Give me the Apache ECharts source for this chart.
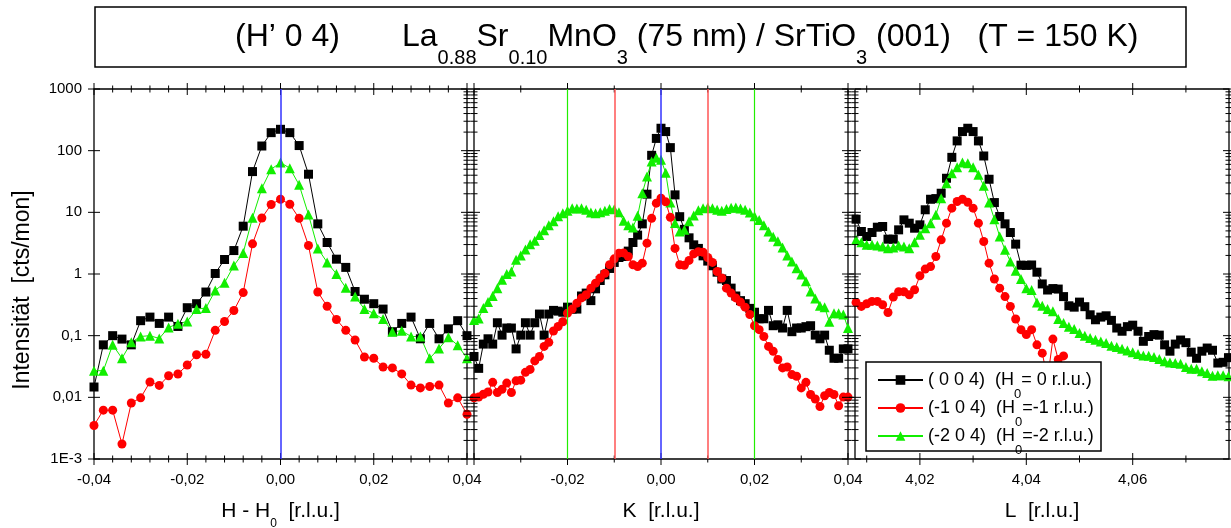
<!DOCTYPE html>
<html><head><meta charset="utf-8">
<script src="https://cdn.jsdelivr.net/npm/echarts@6/dist/echarts.min.js"></script>
<style>html,body{margin:0;padding:0;background:#fff}#c{width:1231px;height:528px}</style>
</head><body><div id="c"></div>
<script>
// ---------- data ----------
const hValues = [-0.040,-0.038,-0.036,-0.034,-0.032,-0.030,-0.028,-0.026,-0.024,-0.022,-0.020,-0.018,-0.016,-0.014,-0.012,-0.010,-0.008,-0.006,-0.004,-0.002,0.000,0.002,0.004,0.006,0.008,0.010,0.012,0.014,0.016,0.018,0.020,0.022,0.024,0.026,0.028,0.030,0.032,0.034,0.036,0.038,0.040];
const hBlack = [0.0147,0.071,0.10,0.088,0.071,0.175,0.20,0.158,0.20,0.141,0.284,0.33,0.51,1.02,1.72,2.4,5.96,45.8,119,196,222,196,121,41.5,6.5,3.24,1.74,1.28,0.52,0.39,0.33,0.27,0.116,0.158,0.20,0.089,0.158,0.089,0.129,0.175,0.10];
const hGreen = [0.027,0.027,0.071,0.043,0.078,0.097,0.10,0.09,0.136,0.156,0.17,0.27,0.28,0.54,0.72,1.37,2.2,8.2,24.6,50,64,52,27.9,9.2,2.6,1.54,1.0,0.6,0.43,0.27,0.23,0.186,0.116,0.12,0.097,0.097,0.043,0.062,0.094,0.07,0.043];
const hRed = [0.0035,0.0062,0.0062,0.00175,0.0081,0.0098,0.0177,0.0156,0.0224,0.0239,0.0334,0.049,0.05,0.122,0.17,0.256,0.50,3.08,8.1,13.4,16.3,13.5,8.0,2.9,0.51,0.30,0.183,0.122,0.085,0.045,0.043,0.031,0.030,0.024,0.0158,0.0142,0.0150,0.0158,0.0081,0.0098,0.0053];

const kValues = [-0.040,-0.039,-0.038,-0.037,-0.036,-0.035,-0.034,-0.033,-0.032,-0.031,-0.030,-0.029,-0.028,-0.027,-0.026,-0.025,-0.024,-0.023,-0.022,-0.021,-0.020,-0.019,-0.018,-0.017,-0.016,-0.015,-0.014,-0.013,-0.012,-0.011,-0.010,-0.009,-0.008,-0.007,-0.006,-0.005,-0.004,-0.003,-0.002,-0.001,0.000,0.001,0.002,0.003,0.004,0.005,0.006,0.007,0.008,0.009,0.010,0.011,0.012,0.013,0.014,0.015,0.016,0.017,0.018,0.019,0.020,0.021,0.022,0.023,0.024,0.025,0.026,0.027,0.028,0.029,0.030,0.031,0.032,0.033,0.034,0.035,0.036,0.037,0.038,0.039,0.040];
const kBlack = [0.046,0.0295,0.073,0.089,0.073,0.162,0.102,0.133,0.133,0.061,
 0.102,0.162,0.102,0.162,0.224,0.102,0.224,0.257,0.25,0.24,
 0.29,0.27,0.27,0.44,0.49,0.37,0.575,0.785,0.97,1.23,
 1.54,1.85,1.92,2.35,3.24,4.27,6.5,19.7,84,158,
 231,204,112,19.2,8.5,5.3,3.86,2.97,2.6,1.97,
 1.62,1.36,1.07,0.83,0.785,0.59,0.44,0.37,0.33,0.277,
 0.24,0.188,0.188,0.257,0.145,0.15,0.133,0.257,0.116,0.133,
 0.133,0.14,0.145,0.102,0.089,0.102,0.058,0.043,0.043,0.061,
 0.061];
const kGreen = [0.18,0.19,0.28,0.35,0.44,0.59,0.805,1.0,1.1,1.7,
 2.0,2.5,3.05,3.45,4.3,5.1,6.2,7.2,8.6,9.7,
 10.6,11.7,11.5,11.7,11.0,9.9,9.7,10.0,10.6,11.3,
 11.2,10.0,7.3,6.2,5.7,8.8,20.4,38,66.5,77,
 71,44,14.4,6.7,4.9,5.2,7.2,8.9,10.8,11.7,
 12.0,11.7,11.0,10.6,11.3,11.9,12.0,11.5,11.0,9.9,
 8.6,7.5,6.2,4.9,4.0,3.4,2.7,2.0,1.6,1.24,
 0.98,0.76,0.52,0.40,0.305,0.29,0.168,0.232,0.232,0.22,
 0.133];
const kRed = [0.0098,0.0101,0.0112,0.0122,0.0175,0.012,0.0135,0.017,0.012,0.0185,
 0.019,0.0254,0.0284,0.039,0.046,0.067,0.078,0.119,0.141,0.168,
 0.232,0.27,0.337,0.41,0.46,0.59,0.71,0.86,1.03,1.41,
 1.76,2.18,2.2,1.92,1.41,1.32,1.5,3.16,8.0,14.1,
 16.9,14.8,8.3,2.6,1.41,1.38,1.66,2.12,2.3,2.25,
 1.85,1.54,1.1,0.86,0.59,0.49,0.41,0.35,0.29,0.22,
 0.145,0.125,0.097,0.067,0.056,0.041,0.030,0.031,0.0234,0.022,
 0.0142,0.0175,0.0111,0.0094,0.0071,0.0106,0.012,0.0111,0.0073,0.0101,
 0.0101];

const lValues = [4.008,4.009,4.010,4.011,4.012,4.013,4.014,4.015,4.016,4.017,4.018,4.019,4.020,4.021,4.022,4.023,4.024,4.025,4.026,4.027,4.028,4.029,4.030,4.031,4.032,4.033,4.034,4.035,4.036,4.037,4.038,4.039,4.040,4.041,4.042,4.043,4.044,4.045,4.046,4.047,4.048,4.049,4.050,4.051,4.052,4.053,4.054,4.055,4.056,4.057,4.058,4.059,4.060,4.061,4.062,4.063,4.064,4.065,4.066,4.067,4.068,4.069,4.070,4.071,4.072,4.073,4.074,4.075,4.076,4.077,4.078];
const lBlack = [7.74,4.89,4.06,4.71,5.74,5.89,3.67,3.67,5.2,7.55,
 6.67,5.53,6.27,11.0,16.3,16.7,20.4,35.7,78,144,
 204,231,204,144,82,34.4,14.4,8.56,6.5,4.71,
 3.05,1.39,1.38,1.4,1.07,0.69,0.55,0.58,0.57,0.43,
 0.305,0.29,0.35,0.295,0.218,0.181,0.2,0.21,0.177,0.133,
 0.118,0.14,0.148,0.118,0.081,0.097,0.104,0.102,0.071,0.056,
 0.073,0.085,0.077,0.054,0.043,0.056,0.063,0.058,0.036,0.037,
 0.044];
const lGreen = [3.58,3.28,2.97,2.97,2.9,2.79,2.62,2.68,2.9,2.79,
 2.62,3.28,4.32,5.53,6.67,9.1,16.9,29.6,43,54,
 64,62.5,54,40.5,26.9,14.4,7.74,4.06,2.47,1.6,
 1.13,0.83,0.59,0.55,0.346,0.305,0.27,0.25,0.186,0.16,
 0.14,0.128,0.110,0.0998,0.0914,0.0859,0.0807,0.0759,0.0687,0.0654,
 0.0614,0.0577,0.0536,0.0504,0.0479,0.0473,0.045,0.0418,0.0383,0.0367,
 0.036,0.0351,0.031,0.0291,0.0291,0.0264,0.0248,0.0224,0.0228,0.0228,
 0.0219];
const lRed = [0.346,0.298,0.329,0.359,0.359,0.317,0.238,0.422,0.515,0.515,
 0.46,0.555,0.935,1.2,1.32,1.92,3.58,6.67,11.7,15.0,
 16.3,14.6,11.7,6.67,3.37,1.5,0.83,0.59,0.43,0.298,
 0.186,0.125,0.104,0.125,0.071,0.052,0.02,0.088,0.041,0.047];

// reference lines
const hLineBlue = [0];
const kLineBlue = [0];
const kLineRed = [-0.0094, 0.0088];
const kLineGreen = [-0.0181, 0.0186];

// ticks & labels
const yMajorTicks = [0.001, 0.01, 0.1, 1, 10, 100, 1000];
const yTickLabels = ['1E-3', '0,01', '0,1', '1', '10', '100', '1000'];
const yMinorFactors = [2, 3, 4, 5, 6, 7, 8, 9];
const hLabelTicks = [-0.04, -0.02, 0, 0.02, 0.04];
const hMinorTicks = [-0.036,-0.032,-0.028,-0.024,-0.016,-0.012,-0.008,-0.004,0.004,0.008,0.012,0.016,0.024,0.028,0.032,0.036];
const kLabelTicks = [-0.02, 0, 0.02, 0.04];
const kMajorTicks = [-0.04, -0.02, 0, 0.02, 0.04];
const kMinorTicks = [-0.03, -0.01, 0.01, 0.03];
const lLabelTicks = [4.02, 4.04, 4.06];
const lMinorTicks = [4.01, 4.03, 4.05, 4.07];

const seriesNames = ['(0 0 4)', '(-1 0 4)', '(-2 0 4)'];
const legendParts = [['( 0 0 4)  (H', '0', '= 0 r.l.u.)'], ['(-1 0 4)  (H', '0', '=-1 r.l.u.)'], ['(-2 0 4)  (H', '0', '=-2 r.l.u.)']];

// ---------- chart ----------
const FONT = "'Liberation Sans', Arial, Helvetica, sans-serif";
const C_BLACK = '#000000', C_RED = '#ff0000', C_GREEN = '#11ee00';

function fmtX(v) { if (Math.abs(v) < 1e-9) v = 0; return v.toFixed(2).replace('.', ','); }
function fmtY(v) { const e = Math.round(Math.log10(v)); const i = yMajorTicks.findIndex(t => Math.round(Math.log10(t)) === e); return i >= 0 ? yTickLabels[i] : ''; }
function zip(xs, ys) { return ys.map((y, i) => [xs[i], y]); }

const yMinorTicks = [];
yMajorTicks.slice(0, -1).forEach(d => yMinorFactors.forEach(f => yMinorTicks.push(d * f)));

const grids = [
  {left: 94, top: 89, width: 373, height: 370},
  {left: 474, top: 89, width: 374, height: 370},
  {left: 855, top: 89, width: 374, height: 370}
].map(g => Object.assign(g, {show: true, borderColor: '#000', borderWidth: 1.3, backgroundColor: 'transparent',
  containLabel: false, outerBoundsMode: 'none'}));

const xRanges = [[-0.04, 0.04], [-0.04, 0.04], [4.0078, 4.0781]];
const xLabelSets = [hLabelTicks, kLabelTicks, lLabelTicks];
const xMajorSets = [hLabelTicks, kMajorTicks, lLabelTicks];
const xMinorSets = [hMinorTicks, kMinorTicks, lMinorTicks];
const xNames = ['{m|H - H}{s|0}{m|  [r.l.u.]}', '{m|K  [r.l.u.]}', '{m|L  [r.l.u.]}'];

const xAxes = xRanges.map((r, i) => ({
  type: 'value', gridIndex: i, min: r[0], max: r[1], splitNumber: 3,
  axisLine: {show: false}, axisTick: {show: false}, splitLine: {show: false},
  axisLabel: {customValues: xLabelSets[i], formatter: fmtX, fontSize: 15, color: '#000', fontFamily: FONT, margin: 13},
  name: xNames[i], nameLocation: 'middle', nameGap: 34,
  nameTextStyle: {fontFamily: FONT, color: '#000', rich: {
    m: {fontSize: 21, lineHeight: 36, fontFamily: FONT, color: '#000'},
    s: {fontSize: 12, lineHeight: 10, padding: [26, 0, 0, 0], fontFamily: FONT, color: '#000'}
  }}
}));

const yAxes = [0, 1, 2].map(i => ({
  type: 'log', logBase: 10, gridIndex: i, min: 0.001, max: 1000, splitNumber: 6,
  axisLine: {show: false}, axisTick: {show: false}, splitLine: {show: false}, minorTick: {show: false},
  axisLabel: {show: i === 0, formatter: fmtY, fontSize: 15, color: '#000', fontFamily: FONT, margin: 12},
  name: i === 0 ? 'Intensität  [cts/mon]' : '', nameLocation: 'middle', nameGap: 60, nameRotate: 90,
  nameTextStyle: {fontSize: 23, color: '#000', fontFamily: FONT, padding: [0, 32, 0, 0]}
}));

function tickRenderer(leftMinor) {
  return function (params, api) {
    const cs = params.coordSys;
    const kind = api.value(2);
    const pt = api.coord([api.value(0), api.value(1)]);
    const L = (kind === 0 || kind === 2) ? 6 : 3.5;
    const st = {stroke: '#000', lineWidth: 1};
    const ch = [];
    if (kind < 2) {
      const y = pt[1];
      if (kind === 0 || leftMinor) ch.push({type: 'line', shape: {x1: cs.x - L, y1: y, x2: cs.x + L, y2: y}, style: st});
      ch.push({type: 'line', shape: {x1: cs.x + cs.width - L, y1: y, x2: cs.x + cs.width + L, y2: y}, style: st});
    } else {
      const x = pt[0];
      ch.push({type: 'line', shape: {x1: x, y1: cs.y - L, x2: x, y2: cs.y + L}, style: st});
      ch.push({type: 'line', shape: {x1: x, y1: cs.y + cs.height - L, x2: x, y2: cs.y + cs.height + L}, style: st});
    }
    return {type: 'group', children: ch};
  };
}

function tickSeries(i) {
  const x0 = xRanges[i][0];
  const data = [];
  yMajorTicks.forEach(v => data.push([x0, v, 0]));
  yMinorTicks.forEach(v => data.push([x0, v, 1]));
  xMajorSets[i].forEach(v => data.push([v, 1, 2]));
  xMinorSets[i].forEach(v => data.push([v, 1, 3]));
  return {type: 'custom', xAxisIndex: i, yAxisIndex: i, data: data, dimensions: ['x', 'y', 'k'], encode: {x: 0, y: 1},
    renderItem: tickRenderer(i !== 0), clip: false, silent: true, z: 3, animation: false};
}

function markLines(blue, red, green) {
  const d = [];
  blue.forEach(v => d.push({xAxis: v, lineStyle: {color: '#3333ff', width: 1.5, type: 'solid'}}));
  red.forEach(v => d.push({xAxis: v, lineStyle: {color: '#ff5555', width: 1.5, type: 'solid'}}));
  green.forEach(v => d.push({xAxis: v, lineStyle: {color: '#22ee00', width: 1.2, type: 'solid'}}));
  return {silent: true, symbol: ['none', 'none'], label: {show: false}, animation: false, data: d};
}

const styles = [
  {symbol: 'rect', symbolSize: 9, color: C_BLACK},
  {symbol: 'circle', symbolSize: 9, color: C_RED},
  {symbol: 'triangle', symbolSize: 10, color: C_GREEN}
];
function lineSeries(gi, si, xs, ys, ml) {
  const s = styles[si];
  const o = {type: 'line', name: seriesNames[si], xAxisIndex: gi, yAxisIndex: gi, data: zip(xs, ys),
    symbol: s.symbol, symbolSize: s.symbolSize, showSymbol: true,
    lineStyle: {color: s.color, width: 1}, itemStyle: {color: s.color},
    clip: false, animation: false, z: 2};
  if (ml) o.markLine = ml;
  return o;
}

const series = [
  lineSeries(0, 0, hValues, hBlack, markLines(hLineBlue, [], [])),
  lineSeries(0, 2, hValues, hGreen),
  lineSeries(0, 1, hValues, hRed),
  lineSeries(1, 0, kValues, kBlack, markLines(kLineBlue, kLineRed, kLineGreen)),
  lineSeries(1, 2, kValues, kGreen),
  lineSeries(1, 1, kValues, kRed),
  lineSeries(2, 0, lValues, lBlack),
  lineSeries(2, 2, lValues, lGreen),
  lineSeries(2, 1, lValues, lRed),
  tickSeries(0), tickSeries(1), tickSeries(2)
];

const titleMain = {fontSize: 32, lineHeight: 60, fontWeight: 'normal', fontFamily: FONT, color: '#000'};
const titleSub = {fontSize: 20, lineHeight: 18, padding: [42, 0, 0, 0], fontWeight: 'normal', fontFamily: FONT, color: '#000'};

const option = {
  backgroundColor: '#fff',
  animation: false,
  textStyle: {fontFamily: FONT},
  grid: grids,
  xAxis: xAxes,
  yAxis: yAxes,
  title: [
    {text: '{m|(H’ 0 4)}', left: 235, top: 7, padding: 0,
     textStyle: {fontWeight: 'normal', fontFamily: FONT, color: '#000', rich: {m: titleMain}}},
    {text: '{m|La}{s|0.88}{m|Sr}{s|0.10}{m|MnO}{s|3}{m| (75 nm) / SrTiO}{s|3}{m| (001)   (T = 150 K)}',
     left: 402, top: 7, padding: 0,
     textStyle: {fontWeight: 'normal', fontFamily: FONT, color: '#000', rich: {m: titleMain, s: titleSub}}}
  ],
  graphic: [
    {type: 'rect', z: 0, shape: {x: 95, y: 7, width: 1091, height: 60}, style: {fill: '#fff', stroke: '#000', lineWidth: 1.5}, silent: true},
    {type: 'rect', z: 3, shape: {x: 866, y: 362, width: 235, height: 89}, style: {fill: '#fff', stroke: '#000', lineWidth: 1.5}, silent: true}
  ],
  legend: {
    orient: 'vertical', left: 877, top: 359, padding: 0, itemGap: -14, itemWidth: 45, itemHeight: 12,
    selectedMode: false, data: seriesNames,
    formatter: name => { const p = legendParts[seriesNames.indexOf(name)]; return '{m|' + p[0] + '}{s|' + p[1] + '}{m|' + p[2] + '}'; },
    textStyle: {fontFamily: FONT, color: '#000', rich: {
      m: {fontSize: 18, lineHeight: 20, fontFamily: FONT, color: '#000'},
      s: {fontSize: 13, lineHeight: 12, padding: [29, 0, 0, 0], fontFamily: FONT, color: '#000'}
    }}
  },
  series: series
};

const chart = echarts.init(document.getElementById('c'), null, {renderer: 'canvas'});
chart.setOption(option);
</script>
</body></html>
